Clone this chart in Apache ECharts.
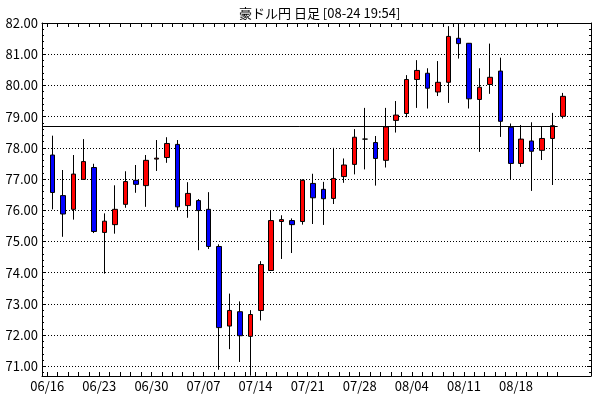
<!DOCTYPE html>
<html>
<head>
<meta charset="utf-8">
<script src="https://cdn.jsdelivr.net/npm/echarts@6/dist/echarts.min.js"></script>
<style>
  html, body { margin: 0; padding: 0; background: #fff; }
  #chart { width: 598px; height: 398px; }
</style>
</head>
<body>
<div id="chart"></div>
<script>
const dates = [
  '06/16', '06/17', '06/18', '06/19', '06/20',
  '06/23', '06/24', '06/25', '06/26', '06/27',
  '06/30', '07/01', '07/02', '07/03', '07/04',
  '07/07', '07/08', '07/09', '07/10', '07/11',
  '07/14', '07/15', '07/16', '07/17', '07/18',
  '07/21', '07/22', '07/23', '07/24', '07/25',
  '07/28', '07/29', '07/30', '07/31', '08/01',
  '08/04', '08/05', '08/06', '08/07', '08/08',
  '08/11', '08/12', '08/13', '08/14', '08/15',
  '08/18', '08/19', '08/20', '08/21', '08/22'
]
const opens = [
  77.77, 76.47, 76.03, 76.99, 77.37, 75.29, 75.54, 76.19, 76.96, 76.79,
  77.64, 77.69, 78.11, 76.15, 76.31, 76.03, 74.84, 72.29, 72.75, 71.96,
  72.79, 74.07, 75.64, 75.67, 75.64, 76.86, 76.67, 76.38, 77.08, 77.47,
  78.28, 78.17, 77.60, 78.88, 79.10, 80.19, 80.39, 79.79, 80.10, 81.51,
  81.35, 79.55, 80.03, 80.46, 78.66, 77.50, 78.22, 77.92, 78.30, 79.01
]
const closes = [
  76.57, 75.88, 77.16, 77.56, 75.32, 75.65, 76.03, 76.92, 76.83, 77.60,
  77.67, 78.14, 76.11, 76.54, 75.99, 74.84, 72.24, 72.79, 71.98, 72.66,
  74.26, 75.67, 75.70, 75.54, 76.96, 76.40, 76.37, 77.02, 77.45, 78.34,
  78.28, 77.66, 78.67, 79.05, 80.19, 80.48, 79.91, 80.10, 81.57, 81.34,
  79.57, 79.94, 80.26, 78.85, 77.50, 78.28, 77.89, 78.30, 78.71, 79.65
]
const lows = [
  76.03, 75.15, 75.70, 76.97, 75.27, 73.97, 75.25, 76.08, 76.56, 76.11,
  77.26, 77.52, 76.00, 75.76, 74.72, 74.76, 70.89, 71.55, 71.14, 70.70,
  72.47, 74.06, 74.44, 74.63, 75.54, 75.56, 75.53, 76.20, 76.88, 77.15,
  77.31, 76.79, 77.37, 78.49, 78.98, 79.28, 79.26, 79.66, 79.44, 80.86,
  79.26, 77.87, 79.73, 78.35, 76.99, 77.39, 76.62, 77.61, 76.81, 78.94
]
const highs = [
  78.39, 77.29, 77.77, 78.28, 77.49, 75.90, 76.80, 77.25, 77.45, 77.77,
  78.25, 78.34, 78.25, 76.90, 76.36, 76.58, 74.91, 73.33, 73.08, 72.80,
  74.37, 75.99, 75.84, 75.74, 76.99, 77.17, 76.91, 78.00, 77.66, 78.60,
  79.28, 78.38, 79.28, 79.50, 80.33, 80.81, 80.55, 80.78, 81.90, 82.00,
  81.36, 80.55, 81.34, 80.89, 78.78, 78.73, 78.82, 78.69, 79.12, 79.76
]
const tickLabels = ['06/16', '06/23', '06/30', '07/07', '07/14', '07/21', '07/28', '08/04', '08/11', '08/18']
const refLevel = 78.69

const FONT = '"Noto Sans CJK JP", "Liberation Sans", sans-serif'

// candle i sits in the middle of its slot, slot boundaries are integers
const candles = dates.map((d, i) => [i + 0.5, opens[i], closes[i], lows[i], highs[i]])
const boundaries = dates.map((d, i) => i)
const labelPos = tickLabels.map(t => dates.indexOf(t))

const xMin = -0.5
const xMax = 52.2
const yMin = 70.69
const yMax = 82

const chart = echarts.init(document.getElementById('chart'))

const xCommon = {
  type: 'value',
  min: xMin,
  max: xMax,
  axisLine: { show: true, onZero: false, lineStyle: { color: '#000', width: 1 } },
  axisTick: { show: true, inside: true, length: 4, customValues: boundaries, lineStyle: { color: '#000' } },
  splitLine: { show: false }
}
const yCommon = {
  type: 'value',
  min: yMin,
  max: yMax,
  minInterval: 1,
  maxInterval: 1,
  axisLine: { show: true, onZero: false, lineStyle: { color: '#000', width: 1 } },
  axisTick: { show: true, inside: true, length: 4, lineStyle: { color: '#000' } },
  minorTick: { show: true, splitNumber: 5, length: 2, lineStyle: { color: '#000' } }
}

chart.setOption({
  animation: false,
  backgroundColor: '#fff',
  title: {
    text: '豪ドル円 日足 [08-24 19:54]',
    left: 234,
    top: 2,
    textStyle: { fontFamily: FONT, fontSize: 13, fontWeight: 'normal', color: '#000' }
  },
  grid: { left: 42, right: 7, top: 23, bottom: 22 },
  xAxis: [
    Object.assign({}, xCommon, {
      position: 'bottom',
      axisLabel: {
        customValues: labelPos,
        formatter: v => dates[v],
        color: '#000',
        fontFamily: FONT,
        fontSize: 13,
        margin: 4
      }
    }),
    Object.assign({}, xCommon, {
      position: 'top',
      axisLabel: { show: false }
    })
  ],
  yAxis: [
    Object.assign({}, yCommon, {
      position: 'left',
      axisLabel: {
        showMinLabel: false,
        formatter: v => v.toFixed(2),
        color: '#000',
        fontFamily: FONT,
        fontSize: 13,
        margin: 4
      },
      splitLine: { show: true, lineStyle: { color: '#000', width: 1, type: [1, 2] } }
    }),
    Object.assign({}, yCommon, {
      position: 'right',
      axisLabel: { show: false },
      splitLine: { show: false }
    })
  ],
  series: [{
    type: 'candlestick',
    xAxisIndex: 0,
    yAxisIndex: 0,
    data: candles,
    barWidth: 5,
    itemStyle: {
      color: '#ff0000',
      color0: '#0000ff',
      borderColor: '#000',
      borderColor0: '#000',
      borderColorDoji: '#000',
      borderWidth: 1
    },
    markLine: {
      silent: true,
      symbol: ['none', 'none'],
      label: { show: false },
      lineStyle: { color: '#000', width: 1, type: 'solid' },
      data: [[{ coord: [xMin, refLevel] }, { coord: [dates.length - 1, refLevel] }]]
    }
  }]
})
</script>
</body>
</html>
